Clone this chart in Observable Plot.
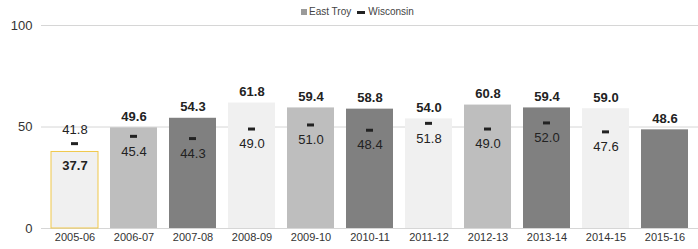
<!DOCTYPE html>
<html><head><meta charset="utf-8">
<script src="https://cdn.jsdelivr.net/npm/d3@7"></script>
<script src="https://cdn.jsdelivr.net/npm/@observablehq/plot@0.6"></script>
<style>
body{margin:0;background:#fff;font-family:"Liberation Sans",Arial,sans-serif;}
#wrap{position:relative;width:698px;height:249px;overflow:hidden;}
#legend{position:absolute;top:5px;left:301px;font-size:10px;color:#444;white-space:nowrap;line-height:14px;}
#legend span{display:inline-block;vertical-align:middle;}
#chart{position:absolute;top:0;left:0;}
</style></head>
<body>
<div id="wrap">
  <div id="chart"></div>
  <div id="legend"><span style="width:6px;height:6px;background:#9a9a9a;margin-right:2px"></span><span>East Troy</span><span style="width:8px;height:3px;background:#222;margin:0 3px 0 6px"></span><span>Wisconsin</span></div>
</div>
<script>
const years = ["2005-06","2006-07","2007-08","2008-09","2009-10","2010-11","2011-12","2012-13","2013-14","2014-15","2015-16"];
const eastTroy = [37.7,49.6,54.3,61.8,59.4,58.8,54.0,60.8,59.4,59.0,48.6];
const wisconsin = [41.8,45.4,44.3,49.0,51.0,48.4,51.8,49.0,52.0,47.6,null];
const yTicks = [0,50,100];

const rows = years.map((y,i)=>({year:y, et:eastTroy[i], wi:wisconsin[i]}));
const wiRows = rows.filter(d=>d.wi!=null);
const above = d => d.wi==null || d.et >= d.wi;

const L="#f0f0f0", M="#bebebe", D="#808080";
const fillFor = {"2005-06":L,"2006-07":M,"2007-08":D,"2008-09":L,"2009-10":M,"2010-11":D,"2011-12":L,"2012-13":M,"2013-14":D,"2014-15":L,"2015-16":D};

const chart = Plot.plot({
  width:698, height:249,
  marginLeft:41, marginRight:0, marginTop:25, marginBottom:21,
  style:{fontFamily:"'Liberation Sans', Arial, sans-serif", color:"#333", background:"#fff"},
  x:{domain:years, paddingInner:0.2, paddingOuter:0.1, label:null},
  y:{domain:[0,100], label:null},
  marks:[
    Plot.gridY(yTicks,{stroke:"#d6d6d6", strokeOpacity:1}),
    Plot.barY(rows,{x:"year", y:"et", fill:d=>fillFor[d.year], stroke:d=>d.et<(d.wi??0)?"#f0c84a":"none", strokeWidth:1, inset:0}),
    Plot.tickY(wiRows,{x:"year", y:"wi", stroke:"#222", strokeWidth:3, insetLeft:20, insetRight:20}),
    Plot.text(rows.filter(above),{x:"year", y:"et", text:d=>d.et.toFixed(1), dy:-11, fontSize:13, fontWeight:"bold", fill:"#222"}),
    Plot.text(rows.filter(d=>!above(d)),{x:"year", y:"et", text:d=>d.et.toFixed(1), dy:14, fontSize:13, fontWeight:"bold", fill:"#222"}),
    Plot.text(wiRows.filter(above),{x:"year", y:"wi", text:d=>d.wi.toFixed(1), dy:15, fontSize:13, fill:"#222"}),
    Plot.text(wiRows.filter(d=>!above(d)),{x:"year", y:"wi", text:d=>d.wi.toFixed(1), dy:-14, fontSize:13, fill:"#222"}),
    Plot.axisY({ticks:yTicks, tickSize:0, tickPadding:9, fontSize:13, label:null}),
    Plot.axisX({tickSize:0, tickPadding:5, fontSize:11, label:null})
  ]
});
document.getElementById("chart").appendChild(chart);
</script>
</body></html>
